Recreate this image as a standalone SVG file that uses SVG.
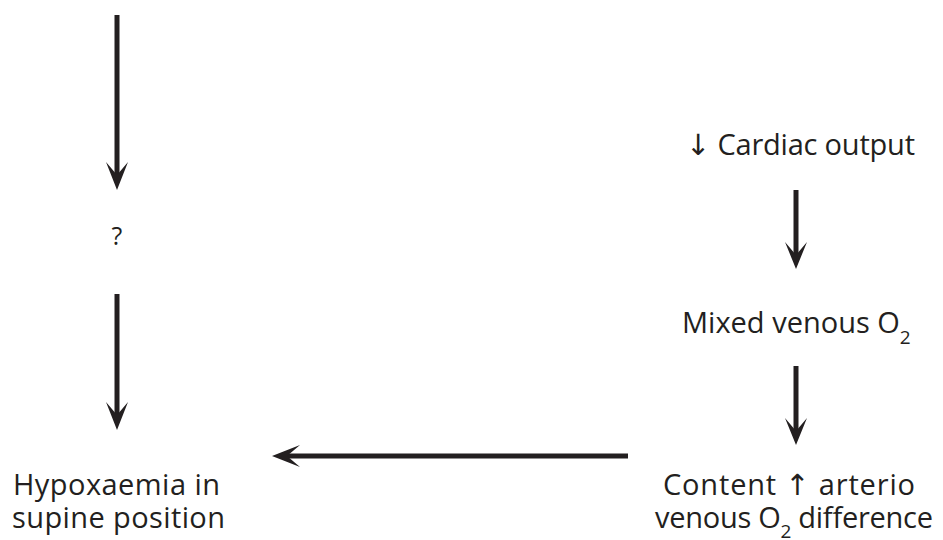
<svg xmlns="http://www.w3.org/2000/svg" width="943" height="540" viewBox="0 0 943 540">
<style>
text{font-family:"Open Sans","Noto Sans",sans-serif;font-size:29px;fill:#231f20}
.ar{font-family:"DejaVu Sans","Liberation Sans",sans-serif;fill:#231f20}
.sb{font-size:19px}
.sh{stroke:#231f20;stroke-width:5;fill:none}
.hd{fill:#231f20}
</style>
<rect width="943" height="540" fill="#fff"/>
<g id="connectors">
<line class="sh" x1="117" y1="15" x2="117" y2="178"/>
<path class="hd" d="M117,190 L106,162 L117,175 L128,162 Z"/>
<line class="sh" x1="117" y1="294" x2="117" y2="418"/>
<path class="hd" d="M117,430 L106,402 L117,415 L128,402 Z"/>
<line class="sh" x1="796" y1="190" x2="796" y2="257"/>
<path class="hd" d="M796,269 L785,242 L796,255 L807,242 Z"/>
<line class="sh" x1="796" y1="366" x2="796" y2="433"/>
<path class="hd" d="M796,445 L785,418 L796,431 L807,418 Z"/>
<line class="sh" x1="628" y1="456" x2="284" y2="456"/>
<path class="hd" d="M272,456 L300,445 L287,456 L300,467 Z"/>
</g>
<g id="node-cardiac"><text x="686" y="155" textLength="229"><tspan class="ar">↓</tspan> Cardiac output</text></g>
<g id="node-question"><text x="117" y="245" text-anchor="middle" style="font-size:25px">?</text></g>
<g id="node-mixed"><text x="682" y="333">Mixed venous O<tspan class="sb" dy="11">2</tspan></text></g>
<g id="node-content"><text x="663" y="495" textLength="252">Content <tspan class="ar">↑</tspan> arterio</text><text x="655" y="528" textLength="278">venous O<tspan class="sb" dy="10">2</tspan><tspan dy="-10"> difference</tspan></text></g>
<g id="node-hypoxaemia"><text x="13" y="495" textLength="207">Hypoxaemia in</text><text x="12" y="528" textLength="213">supine position</text></g>
</svg>
